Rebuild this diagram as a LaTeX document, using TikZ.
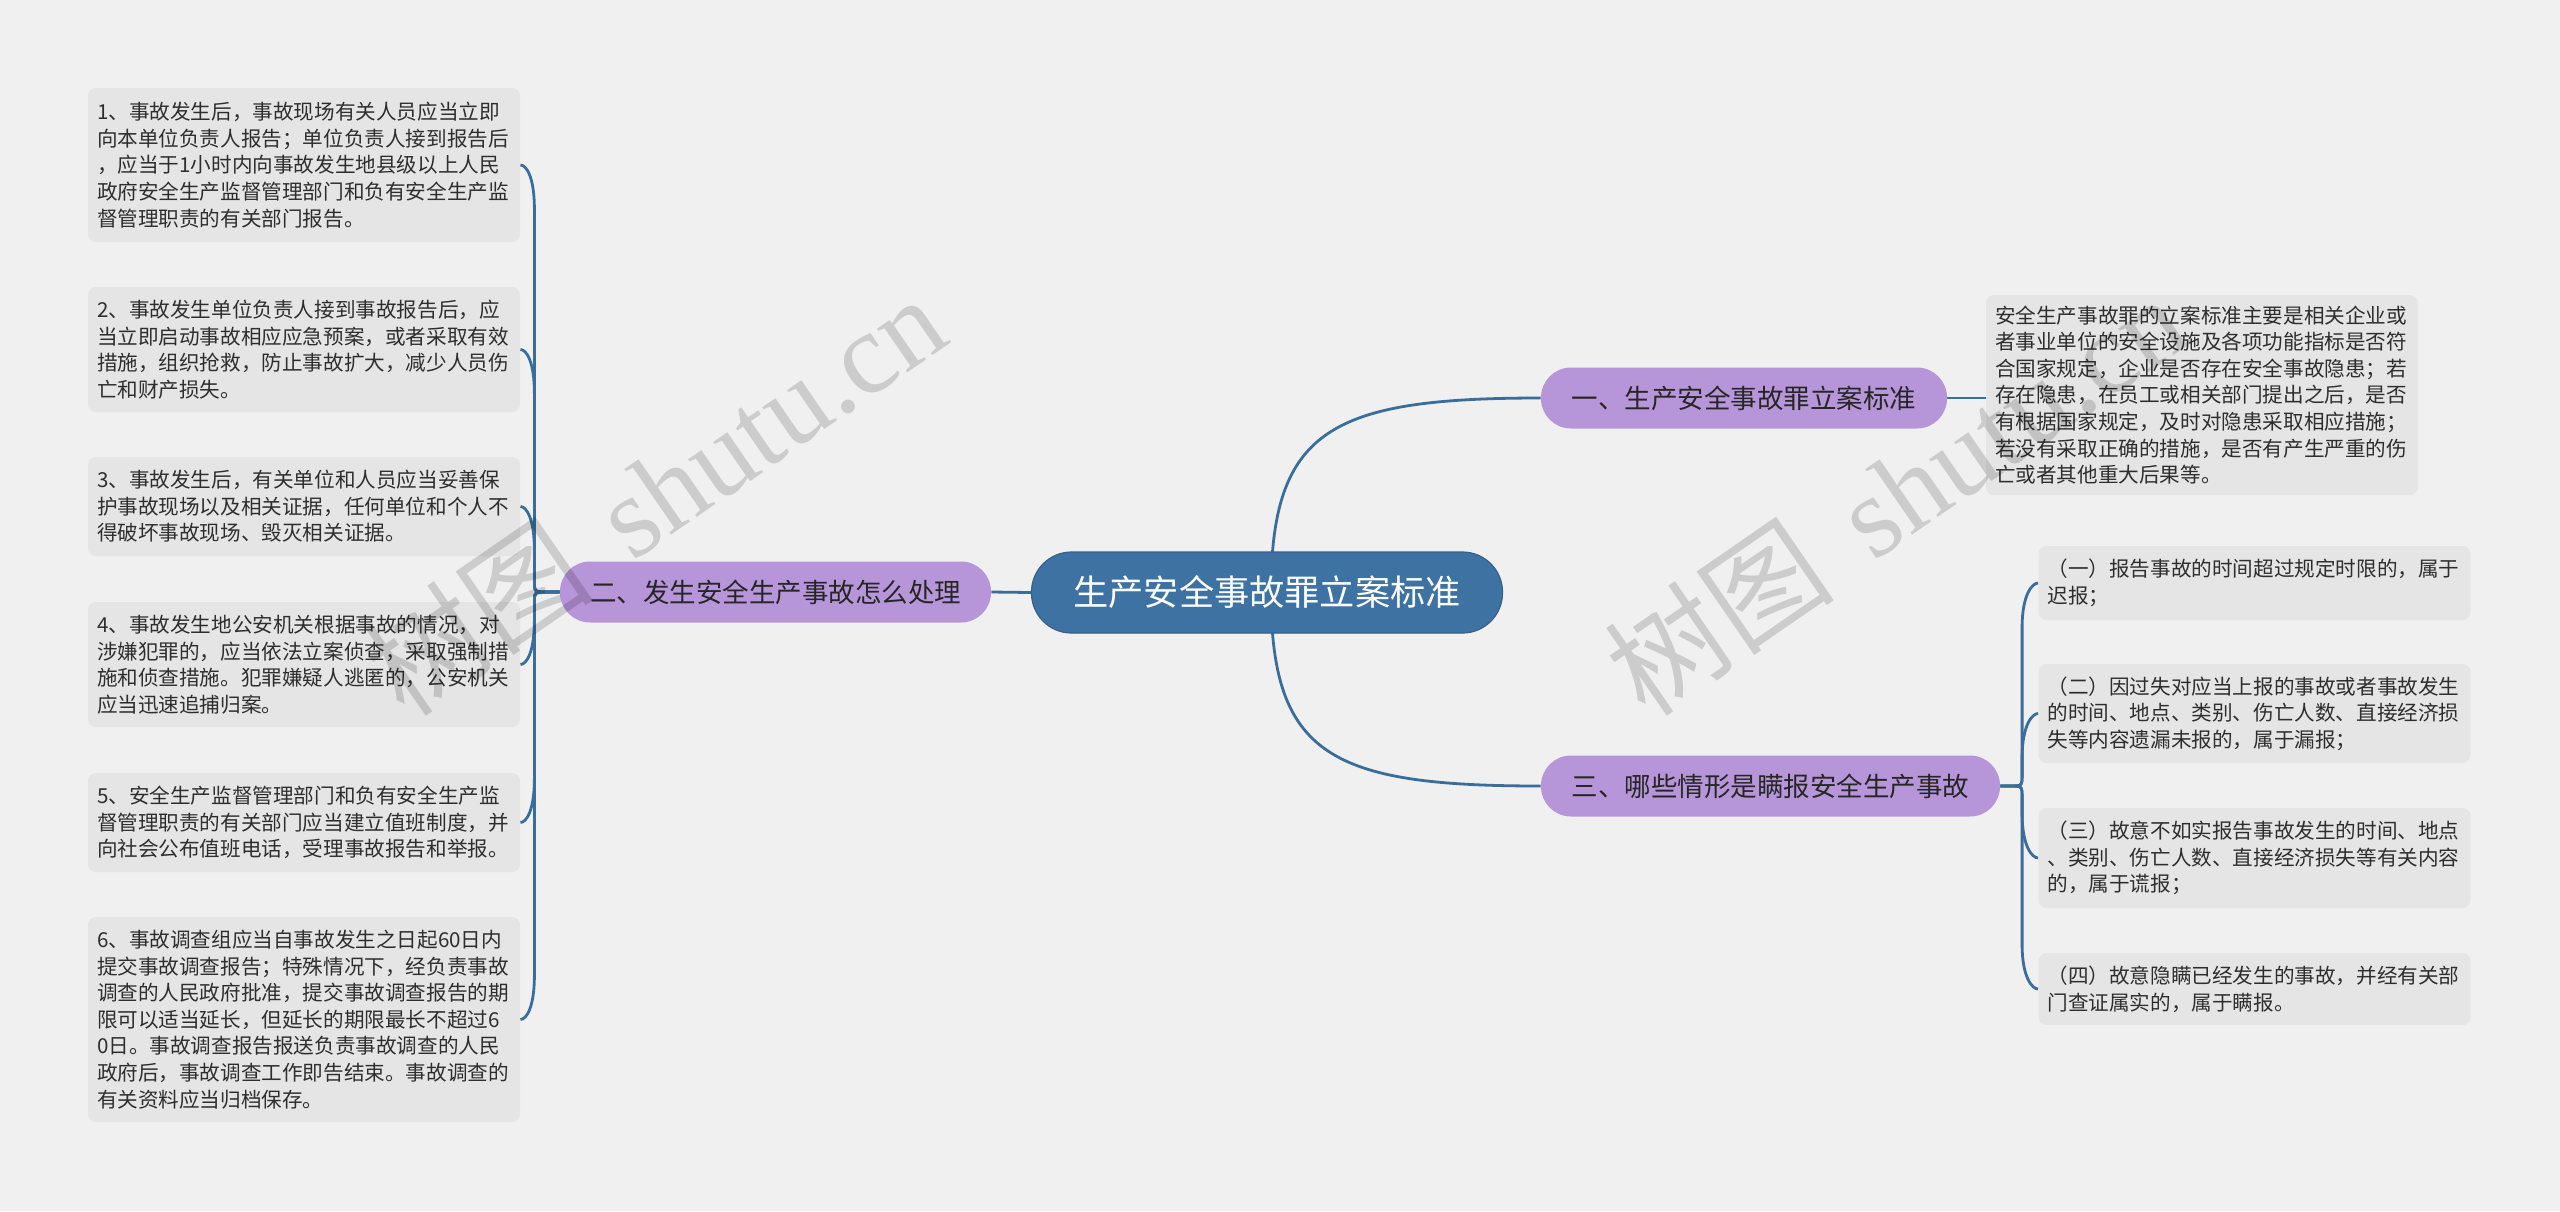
\documentclass[tikz,border=0pt]{standalone}
\usepackage{fontspec}
\setmainfont{Noto Sans CJK SC}
\newfontfamily\wmlatin{Liberation Serif}
\usetikzlibrary{calc,backgrounds}
\definecolor{bgc}{HTML}{F0F0F0}
\definecolor{leafc}{HTML}{E5E5E5}
\definecolor{rootc}{HTML}{3E72A3}
\definecolor{branchc}{HTML}{B795D9}
\definecolor{linec}{HTML}{3A6D9A}
\definecolor{leaftext}{HTML}{2E2E2E}
\begin{document}
\begin{tikzpicture}[x=0.5pt,y=-0.5pt,
  leaf/.style={fill=leafc, rounded corners=4pt, text width=207pt, inner xsep=4.5pt, inner ysep=0pt,
    align=left, text=leaftext, font=\fontsize{10.3pt}{13.3pt}\selectfont},
  rootnode/.style={fill=rootc, draw=rootc!85!black, line width=0.6pt, rounded corners=20pt,
    minimum width=235.5pt, minimum height=40.5pt, inner sep=0pt, text=white,
    font=\fontsize{17.6pt}{20pt}\selectfont},
  branch/.style={fill=branchc, rounded corners=15pt, minimum height=30.5pt, inner sep=0pt,
    text=black!85, font=\fontsize{13.25pt}{16pt}\selectfont},
  conn/.style={draw=linec, line width=1.4pt},
  lhook/.style={to path={let \p1=(\tikztostart), \p2=(\tikztotarget), \n1={(\y2>\y1)?1:-1} in
    -- ({\x2+13pt},\y1) .. controls ({\x2+7pt},\y1) .. ({\x2+7pt},{\y1+(\n1)*6pt})
    -- ({\x2+7pt},{\y2-(\n1)*22pt}) .. controls ({\x2+7pt},{\y2-(\n1)*6pt}) and ({\x2+3pt},\y2) .. (\p2)}},
  rhook/.style={to path={let \p1=(\tikztostart), \p2=(\tikztotarget), \n1={(\y2>\y1)?1:-1} in
    -- ({\x2-14pt},\y1) .. controls ({\x2-8pt},\y1) .. ({\x2-8pt},{\y1+(\n1)*6pt})
    -- ({\x2-8pt},{\y2-(\n1)*22pt}) .. controls ({\x2-8pt},{\y2-(\n1)*6pt}) and ({\x2-3pt},\y2) .. (\p2)}},
  wmark/.style={rotate=34.6, opacity=0.15, text=black, inner sep=0pt}
]
\useasboundingbox (0,0) rectangle (2560,1211);

% root and branches
\node[rootnode] (root) at (1267,592.5) {生产安全事故罪立案标准};
\node[branch, minimum width=203pt] (b1) at (1744,398) {一、生产安全事故罪立案标准};
\node[branch, minimum width=215.5pt] (b2) at (775.5,592) {二、发生安全生产事故怎么处理};
\node[branch, minimum width=229.5pt] (b3) at (1770.5,786) {三、哪些情形是瞒报安全生产事故};

% left leaves
\node[leaf, minimum height=77pt] (l1) at (304,165) {1、事故发生后，事故现场有关人员应当立即\\向本单位负责人报告；单位负责人接到报告后\\，应当于1小时内向事故发生地县级以上人民\\政府安全生产监督管理部门和负有安全生产监\\督管理职责的有关部门报告。};
\node[leaf, minimum height=62.5pt] (l2) at (304,349.5) {2、事故发生单位负责人接到事故报告后，应\\当立即启动事故相应应急预案，或者采取有效\\措施，组织抢救，防止事故扩大，减少人员伤\\亡和财产损失。};
\node[leaf, minimum height=49.5pt] (l3) at (304,506.5) {3、事故发生后，有关单位和人员应当妥善保\\护事故现场以及相关证据，任何单位和个人不\\得破坏事故现场、毁灭相关证据。};
\node[leaf, minimum height=62.5pt] (l4) at (304,664.5) {4、事故发生地公安机关根据事故的情况，对\\涉嫌犯罪的，应当依法立案侦查，采取强制措\\施和侦查措施。犯罪嫌疑人逃匿的，公安机关\\应当迅速追捕归案。};
\node[leaf, minimum height=49.5pt] (l5) at (304,822.5) {5、安全生产监督管理部门和负有安全生产监\\督管理职责的有关部门应当建立值班制度，并\\向社会公布值班电话，受理事故报告和举报。};
\node[leaf, minimum height=102.5pt] (l6) at (304,1019.5) {6、事故调查组应当自事故发生之日起60日内\\提交事故调查报告；特殊情况下，经负责事故\\调查的人民政府批准，提交事故调查报告的期\\限可以适当延长，但延长的期限最长不超过6\\0日。事故调查报告报送负责事故调查的人民\\政府后，事故调查工作即告结束。事故调查的\\有关资料应当归档保存。};

% right leaves
\node[leaf, minimum height=100pt] (r1) at (2202,395) {安全生产事故罪的立案标准主要是相关企业或\\者事业单位的安全设施及各项功能指标是否符\\合国家规定，企业是否存在安全事故隐患；若\\存在隐患，在员工或相关部门提出之后，是否\\有根据国家规定，及时对隐患采取相应措施；\\若没有采取正确的措施，是否有产生严重的伤\\亡或者其他重大后果等。};
\node[leaf, minimum height=37pt] (r2) at (2254.5,583) {（一）报告事故的时间超过规定时限的，属于\\迟报；};
\node[leaf, minimum height=49.5pt] (r3) at (2254.5,713.5) {（二）因过失对应当上报的事故或者事故发生\\的时间、地点、类别、伤亡人数、直接经济损\\失等内容遗漏未报的，属于漏报；};
\node[leaf, minimum height=50pt] (r4) at (2254.5,858) {（三）故意不如实报告事故发生的时间、地点\\、类别、伤亡人数、直接经济损失等有关内容\\的，属于谎报；};
\node[leaf, minimum height=36pt] (r5) at (2254.5,989) {（四）故意隐瞒已经发生的事故，并经有关部\\门查证属实的，属于瞒报。};

\begin{scope}[on background layer]
  \fill[bgc] (0,0) rectangle (2560,1211);
  % root connectors
  \draw[conn] ([xshift=2pt]root.center) to[out=90,in=180,out distance=81.5pt,in distance=105pt] (b1.west);
  \draw[conn] ([xshift=2pt]root.center) to[out=-90,in=180,out distance=81.5pt,in distance=105pt] (b3.west);
  \draw[conn] (root.west) -- (b2.east);
  % branch one
  \draw[conn] (b1.east) -- (b1.east -| r1.west);
  % branch two
  \draw[conn] (b2.west) to[lhook] (l1.east);
  \draw[conn] (b2.west) to[lhook] (l2.east);
  \draw[conn] (b2.west) to[lhook] (l3.east);
  \draw[conn] (b2.west) to[lhook] (l4.east);
  \draw[conn] (b2.west) to[lhook] (l5.east);
  \draw[conn] (b2.west) to[lhook] (l6.east);
  % branch three
  \draw[conn] (b3.east) to[rhook] (r2.west);
  \draw[conn] (b3.east) to[rhook] (r3.west);
  \draw[conn] (b3.east) to[rhook] (r4.west);
  \draw[conn] (b3.east) to[rhook] (r5.west);
\end{scope}

% watermarks
\node[wmark] (wm1) at (654,494) {{\fontsize{58pt}{58pt}\selectfont 树图}\hspace{22pt}{\wmlatin\fontsize{58pt}{58pt}\selectfont shutu.cn}};
\node[wmark] (wm2) at (1895,494) {{\fontsize{58pt}{58pt}\selectfont 树图}\hspace{22pt}{\wmlatin\fontsize{58pt}{58pt}\selectfont shutu.cn}};
\end{tikzpicture}
\end{document}
